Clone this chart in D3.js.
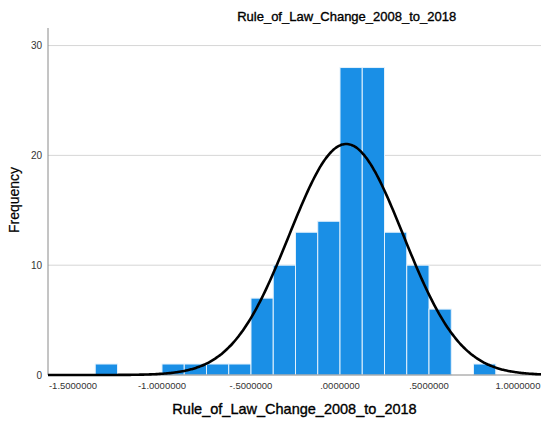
<!DOCTYPE html>
<html>
<head>
<meta charset="utf-8">
<script src="https://cdn.jsdelivr.net/npm/d3@7/dist/d3.min.js"></script>
<style>
  html, body { margin: 0; padding: 0; background: #fff; }
  svg { display: block; font-family: "Liberation Sans", Arial, sans-serif; }
</style>
</head>
<body>
<svg id="chart" width="541" height="425"></svg>
<script>
// ---- data ----
const binLower = [-1.375, -1.25, -1.125, -1.0, -0.875, -0.75, -0.625, -0.5, -0.375, -0.25, -0.125, 0.0, 0.125, 0.25, 0.375, 0.5, 0.625, 0.75];
const counts   = [1, 0, 0, 1, 1, 1, 1, 7, 10, 13, 14, 28, 28, 13, 10, 6, 0, 1];
const binWidth = 0.125;
const xTickValues = [-1.5, -1.0, -0.5, 0.0, 0.5, 1.0];
const xTickLabels = ["-1.5000000", "-1.0000000", "-.5000000", ".0000000", ".5000000", "1.0000000"];
const yTickValues = [0, 10, 20, 30];
const fitMean = 0.035;
const fitSd = 0.32;
const totalN = 135;
const titleText = "Rule_of_Law_Change_2008_to_2018";
const xTitle = "Rule_of_Law_Change_2008_to_2018";
const yTitle = "Frequency";

// ---- layout ----
const svg = d3.select("#chart");
const plotLeft = 48, plotRight = 541, plotTop = 28, plotBottom = 375;

const x = d3.scaleLinear().domain([-1.6404, 1.1292]).range([plotLeft, plotRight]);
const y = d3.scaleLinear().domain([0, 31.6]).range([plotBottom, plotTop]);

// gridlines
svg.append("g").selectAll("line")
  .data(yTickValues.filter(v => v > 0))
  .join("line")
  .attr("x1", plotLeft).attr("x2", plotRight)
  .attr("y1", d => y(d)).attr("y2", d => y(d))
  .attr("stroke", "#d6d6d6").attr("stroke-width", 1);

// bars
const bins = binLower.map((b, i) => ({ x0: b, x1: b + binWidth, n: counts[i] })).filter(d => d.n > 0);
svg.append("g").selectAll("rect")
  .data(bins)
  .join("rect")
  .attr("x", d => x(d.x0))
  .attr("y", d => y(d.n))
  .attr("width", d => x(d.x1) - x(d.x0))
  .attr("height", d => y(0) - y(d.n))
  .attr("fill", "#1a8fe6")
  .attr("stroke", "#e3f1fc")
  .attr("stroke-width", 1);

// axes lines
svg.append("line")
  .attr("x1", plotLeft).attr("x2", plotLeft).attr("y1", plotTop).attr("y2", plotBottom)
  .attr("stroke", "#8a8a8a").attr("stroke-width", 1);
svg.append("line")
  .attr("x1", plotLeft).attr("x2", plotRight).attr("y1", plotBottom).attr("y2", plotBottom)
  .attr("stroke", "#8a8a8a").attr("stroke-width", 1);

// normal curve
const [d0, d1] = x.domain();
const curvePts = d3.range(0, 301).map(i => {
  const v = d0 + (d1 - d0) * i / 300;
  const z = (v - fitMean) / fitSd;
  const f = totalN * binWidth * Math.exp(-0.5 * z * z) / (fitSd * Math.sqrt(2 * Math.PI));
  return [v, f];
});
svg.append("path")
  .datum(curvePts)
  .attr("d", d3.line().x(d => x(d[0])).y(d => y(d[1])).curve(d3.curveBasis))
  .attr("fill", "none")
  .attr("stroke", "#000")
  .attr("stroke-width", 2.6);

// x tick labels
svg.append("g").selectAll("text")
  .data(xTickValues)
  .join("text")
  .attr("x", d => x(d))
  .attr("y", 386)
  .attr("text-anchor", "middle")
  .attr("dominant-baseline", "middle")
  .attr("font-size", 9.5)
  .attr("fill", "#333")
  .text((d, i) => xTickLabels[i]);

// y tick labels
svg.append("g").selectAll("text")
  .data(yTickValues)
  .join("text")
  .attr("x", 42)
  .attr("y", d => y(d) + 1)
  .attr("text-anchor", "end")
  .attr("dominant-baseline", "middle")
  .attr("font-size", 10)
  .attr("fill", "#333")
  .text(d => d);

// titles
svg.append("text")
  .attr("x", 346.7).attr("y", 18)
  .attr("text-anchor", "middle").attr("dominant-baseline", "middle")
  .attr("font-size", 13).attr("fill", "#000")
  .attr("stroke", "#000").attr("stroke-width", 0.35)
  .text(titleText);

svg.append("text")
  .attr("x", 294.5).attr("y", 410)
  .attr("text-anchor", "middle").attr("dominant-baseline", "middle")
  .attr("font-size", 14.5).attr("fill", "#000")
  .attr("stroke", "#000").attr("stroke-width", 0.35)
  .text(xTitle);

svg.append("text")
  .attr("transform", "translate(15,200) rotate(-90)")
  .attr("text-anchor", "middle").attr("dominant-baseline", "middle")
  .attr("font-size", 14).attr("fill", "#000")
  .attr("stroke", "#000").attr("stroke-width", 0.2)
  .text(yTitle);
</script>
</body>
</html>
